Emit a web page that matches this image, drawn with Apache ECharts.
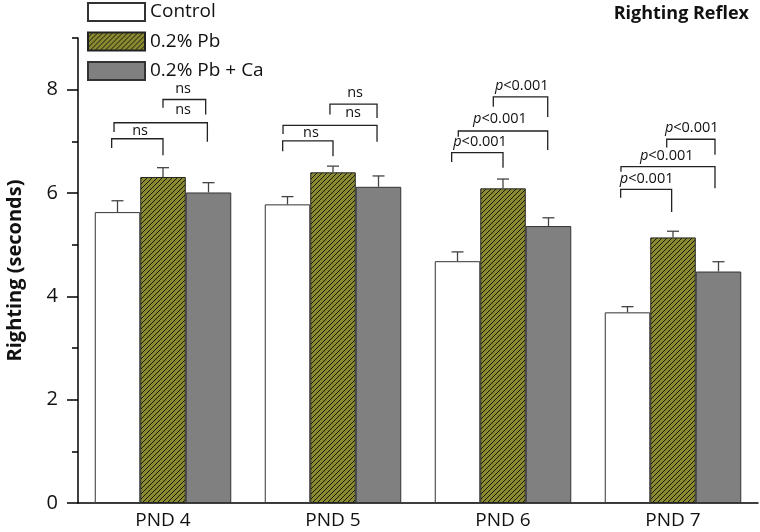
<!DOCTYPE html>
<html><head><meta charset="utf-8">
<script src="https://cdn.jsdelivr.net/npm/echarts@6/dist/echarts.min.js"></script>
<style>html,body{margin:0;padding:0;background:#fff}#c{width:760px;height:532px}</style>
</head><body><div id="c"></div>
<script>
// ---- data ----
const categories = ['PND 4', 'PND 5', 'PND 6', 'PND 7'];
const seriesNames = ['Control', '0.2% Pb', '0.2% Pb + Ca'];
const controlMean = [5.63, 5.78, 4.68, 3.69];
const controlErr  = [0.22, 0.15, 0.18, 0.11];
const pbMean      = [6.31, 6.40, 6.09, 5.14];
const pbErr       = [0.18, 0.12, 0.18, 0.12];
const pbCaMean    = [6.01, 6.12, 5.36, 4.48];
const pbCaErr     = [0.19, 0.21, 0.16, 0.19];
const yMajorTicks = [0, 2, 4, 6, 8];
const yMinorTicks = [1, 3, 5, 7, 9];
// significance brackets: [category, leftFrac, rightFrac, yBar, yLeftEnd, yRightEnd, label, labelFrac, labelY]
const brackets = [
  [0, -0.302, 0.000, 7.05, 6.87, 6.73, 'ns', -0.135, 7.20],
  [0, -0.288, 0.261, 7.36, 7.18, 6.99, 'ns',  0.118, 7.60],
  [0,  0.000, 0.251, 7.81, 7.65, 7.52, 'ns',  0.118, 8.01],
  [1, -0.296, 0.000, 7.01, 6.81, 6.71, 'ns', -0.130, 7.16],
  [1, -0.294, 0.259, 7.31, 7.14, 6.99, 'ns',  0.118, 7.55],
  [1, -0.018, 0.259, 7.72, 7.52, 7.45, 'ns',  0.130, 7.93],
  [2, -0.302, 0.000, 6.78, 6.60, 6.49, 'p',  -0.135, 6.99],
  [2, -0.263, 0.263, 7.20, 7.09, 6.83, 'p',  -0.018, 7.44],
  [2, -0.057, 0.263, 7.86, 7.67, 7.47, 'p',   0.110, 8.07],
  [3, -0.308,-0.008, 6.07, 5.91, 5.63, 'p',  -0.155, 6.28],
  [3, -0.306, 0.247, 6.51, 6.41, 6.09, 'p',  -0.037, 6.71],
  [3, -0.037, 0.247, 7.04, 6.88, 6.74, 'p',   0.110, 7.26]
];

// ---- styles ----
const FONT = '"Open Sans", "Noto Sans", sans-serif';
const BAR_W = 45.5;
const means = [controlMean, pbMean, pbCaMean];
const errs = [controlErr, pbErr, pbCaErr];
const errData = [];
means.forEach((m, s) => m.forEach((v, i) => errData.push([i, v, errs[s][i], s])));

// hatch tile: olive fill with "/" diagonal lines
function makeHatch() {
  const s = 5;
  const cv = document.createElement('canvas');
  cv.width = s; cv.height = s;
  const g = cv.getContext('2d');
  g.fillStyle = '#8a8a32';
  g.fillRect(0, 0, s, s);
  g.strokeStyle = 'rgba(20,20,5,0.95)';
  g.lineWidth = 1;
  g.beginPath();
  g.moveTo(-1, s + 1); g.lineTo(s + 1, -1);
  g.moveTo(-1, 1); g.lineTo(1, -1);
  g.moveTo(s - 1, s + 1); g.lineTo(s + 1, s - 1);
  g.stroke();
  return cv;
}
const hatchFill = {image: makeHatch(), repeat: 'repeat'};

const chart = echarts.init(document.getElementById('c'), null, {renderer: 'canvas'});
const barStyles = [
  {color: '#ffffff', borderColor: '#333', borderWidth: 1},
  {color: hatchFill, borderColor: '#222', borderWidth: 1},
  {color: '#808080', borderColor: '#333', borderWidth: 1}
];

chart.setOption({
  animation: false,
  aria: {enabled: false},
  title: {
    text: 'Righting Reflex', right: 6, top: 0,
    textStyle: {fontFamily: FONT, fontWeight: 'bold', fontSize: 18, color: '#111'}
  },
  legend: {
    orient: 'vertical', left: 87, top: 2, padding: 0, itemWidth: 57, itemHeight: 18, itemGap: 9.5,
    data: seriesNames, icon: 'rect',
    textStyle: {fontFamily: FONT, fontSize: 19, color: '#111'},
    selectedMode: false
  },
  grid: {left: 78, right: 2, top: 38, bottom: 29, outerBoundsMode: 'none', containLabel: false},
  xAxis: {
    type: 'category', data: categories,
    axisLine: {lineStyle: {color: '#000', width: 1.5}},
    axisTick: {show: false},
    axisLabel: {fontFamily: FONT, fontSize: 19, color: '#111', margin: 8}
  },
  yAxis: [{
    type: 'value', min: 0, max: 9, interval: 1,
    name: 'Righting (seconds)', nameLocation: 'middle', nameGap: 53,
    nameTextStyle: {fontFamily: FONT, fontWeight: 'bold', fontSize: 20, color: '#111'},
    axisLine: {show: true, lineStyle: {color: '#000', width: 1.5}},
    axisTick: {show: true, length: 11, lineStyle: {color: '#000', width: 1.5}, customValues: yMajorTicks},
    axisLabel: {fontFamily: FONT, fontSize: 20, color: '#111', margin: 20, customValues: yMajorTicks},
    splitLine: {show: false}
  }, {
    type: 'value', min: 0, max: 9, position: 'left',
    axisLine: {show: false},
    axisTick: {show: true, length: 6, lineStyle: {color: '#000', width: 1.5}, customValues: yMinorTicks},
    axisLabel: {show: false},
    splitLine: {show: false}
  }],
  series: [
    ...seriesNames.map((n, s) => ({
      name: n, type: 'bar', data: means[s], barWidth: BAR_W, barGap: '0%',
      itemStyle: barStyles[s], z: 2
    })),
    {
      type: 'custom', name: 'err', data: errData, z: 3,
      renderItem: (params, api) => {
        const cat = api.value(0), m = api.value(1), e = api.value(2), s = api.value(3);
        const p0 = api.coord([cat, m]);
        const p1 = api.coord([cat, m + e]);
        const x = p0[0] + (s - 1) * BAR_W;
        const st = {stroke: '#444', lineWidth: 1.3};
        return {type: 'group', children: [
          {type: 'line', shape: {x1: x, y1: p0[1], x2: x, y2: p1[1]}, style: st},
          {type: 'line', shape: {x1: x - 6, y1: p1[1], x2: x + 6, y2: p1[1]}, style: st}
        ]};
      }
    },
    {
      type: 'custom', name: 'sig', data: brackets, z: 4,
      renderItem: (params, api) => {
        const b = brackets[params.dataIndex];
        const band = api.size([1, 0])[0];
        const c = api.coord([b[0], b[3]]);
        const xl = c[0] + b[1] * band, xr = c[0] + b[2] * band;
        const yb = c[1];
        const yl = api.coord([b[0], b[4]])[1], yr = api.coord([b[0], b[5]])[1];
        const lab = api.coord([b[0], b[8]]);
        const st = {stroke: '#222', lineWidth: 1.3, fill: null};
        const isP = b[6] === 'p';
        return {type: 'group', children: [
          {type: 'polyline', shape: {points: [[xl, yl], [xl, yb], [xr, yb], [xr, yr]]}, style: st},
          {type: 'text', x: lab[0] + b[7] * band, y: lab[1], style: {
            text: isP ? '{i|p}<0.001' : 'ns',
            rich: {i: {fontStyle: 'italic', fontFamily: FONT, fontSize: 14.5, fill: '#111'}},
            fontFamily: FONT, fontSize: 14.5, fill: '#111', align: 'center', verticalAlign: 'middle'
          }}
        ]};
      }
    }
  ]
});
</script></body></html>
